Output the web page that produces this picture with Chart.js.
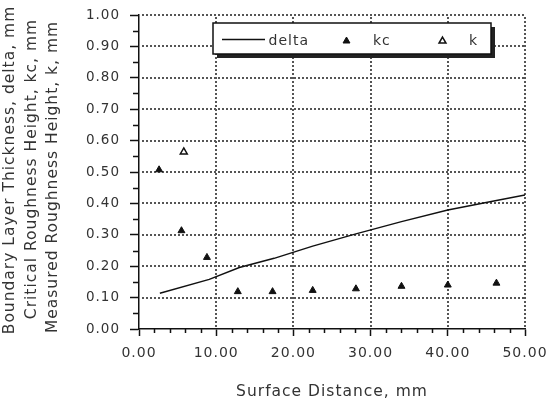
<!DOCTYPE html>
<html><head><meta charset="utf-8">
<script src="https://cdn.jsdelivr.net/npm/chart.js@4.4.1/dist/chart.umd.min.js"></script>
<style>html,body{margin:0;padding:0;background:#fff;}#wrap{width:547px;height:404px;}</style>
</head><body><div id="wrap"><canvas id="c" width="547" height="404"></canvas></div>
<script>
// ---- data ----
const deltaX = [2.7, 9.1, 13.0, 17.5, 22.5, 28.1, 34.0, 40.0, 46.3, 50.0];
const deltaY = [0.114, 0.158, 0.196, 0.225, 0.264, 0.303, 0.342, 0.379, 0.409, 0.427];
const kcX = [2.6, 5.5, 8.8, 12.8, 17.3, 22.5, 28.1, 34.0, 40.0, 46.3];
const kcY = [0.507, 0.313, 0.228, 0.119, 0.119, 0.123, 0.128, 0.136, 0.140, 0.146];
const kX = [5.8];
const kY = [0.564];
const seriesNames = ['delta', 'kc', 'k'];
const xTitle = 'Surface Distance, mm';
const yTitle = ['Boundary Layer Thickness, delta, mm', 'Critical Roughness Height, kc, mm', 'Measured Roughness Height, k, mm'];
const xMin = 0, xMax = 50, xStep = 10, xMinorStep = 2;
const yMin = 0, yMax = 1, yStep = 0.1, yMinorStep = 0.05;

const FONT = '"DejaVu Sans", sans-serif';
const INK = '#111';
const TXT = '#333';

const pts = (xs, ys) => xs.map((x, i) => ({x: x, y: ys[i]}));

const spacingPlugin = {
  id: 'spacing',
  beforeUpdate(chart) { chart.ctx.letterSpacing = '1px'; },
  beforeDraw(chart) { chart.ctx.letterSpacing = '1px'; }
};

// dotted grid as small square dots at the scales' own tick positions
const dottedGrid = {
  id: 'dottedGrid',
  beforeDatasetsDraw(chart) {
    const ctx = chart.ctx, a = chart.chartArea;
    const xs = chart.scales.x, ys = chart.scales.y;
    ctx.save();
    ctx.fillStyle = '#555';
    xs.ticks.forEach(t => {
      if (t.value === xMin) return;
      const px = Math.round(xs.getPixelForValue(t.value)) - 1;
      for (let y = Math.round(a.bottom) - 4; y >= a.top - 1; y -= 4) ctx.fillRect(px, y, 2, 2);
    });
    ys.ticks.forEach(t => {
      if (t.value === yMin) return;
      const py = Math.round(ys.getPixelForValue(t.value)) - 1;
      for (let x = Math.round(a.left) + 3; x <= a.right; x += 4) ctx.fillRect(x, py, 2, 2);
    });
    ctx.restore();
  }
};

const extrasPlugin = {
  id: 'extras',
  afterDraw(chart) {
    const ctx = chart.ctx, a = chart.chartArea;
    const xs = chart.scales.x, ys = chart.scales.y;
    ctx.save();
    // minor ticks
    ctx.strokeStyle = INK; ctx.lineWidth = 1.5;
    ctx.beginPath();
    for (let v = xMin; v <= xMax + 1e-9; v += xMinorStep) {
      if (Math.abs(v / xStep - Math.round(v / xStep)) < 1e-6) continue;
      const px = Math.round(xs.getPixelForValue(v)) + 0.5;
      ctx.moveTo(px, a.bottom); ctx.lineTo(px, a.bottom + 4);
    }
    for (let v = yMin; v <= yMax + 1e-9; v += yMinorStep) {
      if (Math.abs(v / yStep - Math.round(v / yStep)) < 1e-6) continue;
      const py = Math.round(ys.getPixelForValue(v)) + 0.5;
      ctx.moveTo(a.left, py); ctx.lineTo(a.left - 6, py);
    }
    ctx.stroke();

    // y title (three lines, rotated)
    ctx.fillStyle = TXT;
    ctx.font = '15.5px ' + FONT;
    ctx.textAlign = 'center';
    ctx.textBaseline = 'middle';
    const lineX = [10, 31.5, 53];
    const lineC = [170, 169, 177];
    yTitle.forEach((t, i) => {
      ctx.save();
      ctx.translate(lineX[i], lineC[i]);
      ctx.rotate(-Math.PI / 2);
      ctx.fillText(t, 0, 0);
      ctx.restore();
    });

    // legend box
    const bx = 213, by = 23, bw = 278, bh = 31;
    ctx.fillStyle = '#222';
    ctx.fillRect(bx + 4, by + 4, bw, bh);
    ctx.fillStyle = '#fff';
    ctx.fillRect(bx, by, bw, bh);
    ctx.strokeStyle = INK; ctx.lineWidth = 1.5;
    ctx.strokeRect(bx, by, bw, bh);

    const ds = chart.data.datasets;
    ctx.lineWidth = ds[0].borderWidth;
    ctx.beginPath(); ctx.moveTo(222, 39.5); ctx.lineTo(265, 39.5); ctx.stroke();
    const tri = (cx, cy, r, fill, stroke, lw) => {
      ctx.beginPath();
      ctx.moveTo(cx, cy - r);
      ctx.lineTo(cx + r * Math.sin(Math.PI / 3), cy + r / 2);
      ctx.lineTo(cx - r * Math.sin(Math.PI / 3), cy + r / 2);
      ctx.closePath();
      ctx.fillStyle = fill; ctx.fill();
      ctx.strokeStyle = stroke; ctx.lineWidth = lw; ctx.stroke();
    };
    tri(346.5, 41, ds[1].pointRadius, ds[1].backgroundColor, ds[1].borderColor, ds[1].borderWidth);
    tri(442.5, 41, ds[2].pointRadius, ds[2].backgroundColor, ds[2].borderColor, ds[2].borderWidth);
    ctx.fillStyle = TXT;
    ctx.font = '14px ' + FONT;
    ctx.textAlign = 'left';
    ctx.textBaseline = 'alphabetic';
    ctx.fillText(seriesNames[0], 268.5, 45);
    ctx.fillText(seriesNames[1], 373, 45);
    ctx.fillText(seriesNames[2], 469, 45);
    ctx.restore();
  }
};

new Chart(document.getElementById('c'), {
  type: 'scatter',
  data: {
    datasets: [
      { label: seriesNames[0], data: pts(deltaX, deltaY), showLine: true, pointRadius: 0,
        borderColor: INK, borderWidth: 1.5, backgroundColor: INK, tension: 0 },
      { label: seriesNames[1], data: pts(kcX, kcY), pointStyle: 'triangle', pointRadius: 4,
        backgroundColor: INK, borderColor: INK, borderWidth: 1 },
      { label: seriesNames[2], data: pts(kX, kY), pointStyle: 'triangle', pointRadius: 4,
        backgroundColor: '#fff', borderColor: INK, borderWidth: 1.5 }
    ]
  },
  options: {
    responsive: false,
    animation: false,
    events: [],
    layout: { padding: { left: 0, top: 15, right: 22, bottom: 0 } },
    plugins: { legend: { display: false }, tooltip: { enabled: false } },
    scales: {
      x: {
        type: 'linear', min: xMin, max: xMax,
        ticks: { stepSize: xStep, callback: v => Number(v).toFixed(2), font: { family: FONT, size: 14 },
                 color: TXT, padding: 9, maxRotation: 0, autoSkip: false },
        grid: { drawOnChartArea: false, drawTicks: true, tickLength: 7, tickColor: INK, tickWidth: 1.5, color: INK },
        border: { display: true, color: INK, width: 1.5 },
        title: { display: true, text: xTitle, color: TXT, font: { family: FONT, size: 15.5 }, padding: { top: 0, bottom: 3 } },
        afterFit(s) { s.height = 75; s.paddingLeft = 0; s.paddingRight = 0; }
      },
      y: {
        type: 'linear', min: yMin, max: yMax,
        ticks: { stepSize: yStep, callback: v => Number(v).toFixed(2), font: { family: FONT, size: 13.5 },
                 color: TXT, padding: 10, autoSkip: false },
        grid: { drawOnChartArea: false, drawTicks: true, tickLength: 9, tickColor: INK, tickWidth: 1.5, color: INK },
        border: { display: true, color: INK, width: 1.5 },
        afterFit(s) { s.width = 139; s.paddingTop = 0; s.paddingBottom = 0; }
      }
    }
  },
  plugins: [spacingPlugin, dottedGrid, extrasPlugin]
});
</script>
</body></html>
